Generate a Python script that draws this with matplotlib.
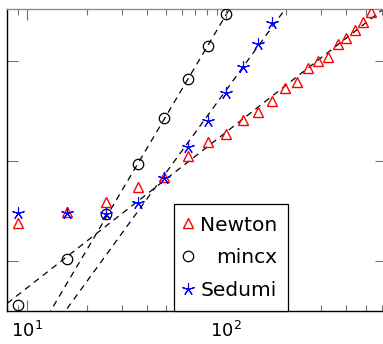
import matplotlib
matplotlib.use('Agg')
import matplotlib.pyplot as plt
import numpy as np

# problem sizes (x) and timings (y)
newton_x = [9, 16, 25, 36, 49, 64, 81, 100, 121, 144, 169, 196, 225, 256, 289,
            324, 361, 400, 441, 484, 529]
newton_y = [0.238, 0.311, 0.386, 0.546, 0.687, 1.13, 1.56, 1.86, 2.57, 3.11, 4.01,
            5.43, 6.17, 8.57, 10.07, 11.04, 14.69, 16.87, 20.42, 24.38, 30.69]

mincx_x = [9, 16, 25, 36, 49, 64, 81, 100]
mincx_y = [0.0367, 0.1054, 0.297, 0.927, 2.69, 6.56, 14.22, 29.31]

sedumi_x = [9, 16, 25, 36, 49, 64, 81, 100, 121, 144, 169]
sedumi_y = [0.300, 0.300, 0.297, 0.383, 0.671, 1.371, 2.53, 4.75, 8.77, 14.89, 23.99]

# points used for the log-log regression lines
newton_fit_from = 64
mincx_fit_from = 36
sedumi_fit_from = 36

fig = plt.figure(figsize=(3.83, 3.44), dpi=100)
ax = fig.add_axes([7.3 / 383, 33 / 344, 378.7 / 383, 302 / 344])
ax.set_xscale('log')
ax.set_yscale('log')
ax.set_xlim(10 ** 0.9025, 10 ** 2.8005)
ax.set_ylim(10 ** -1.5, 10 ** 1.52)

xl = np.array(ax.get_xlim())


def fit_line(xs, ys, start):
    xs = np.array(xs, dtype=float)
    ys = np.array(ys, dtype=float)
    m = xs >= start
    k, b = np.polyfit(np.log10(xs[m]), np.log10(ys[m]), 1)
    return 10 ** (k * np.log10(xl) + b)


for xs, ys, s in [(newton_x, newton_y, newton_fit_from),
                  (mincx_x, mincx_y, mincx_fit_from),
                  (sedumi_x, sedumi_y, sedumi_fit_from)]:
    ax.plot(xl, fit_line(xs, ys, s), color='black', lw=0.9, dashes=(5, 4), zorder=1)

ax.plot(newton_x, newton_y, ls='none', marker='^', ms=7.5, mfc='none', mec='red',
        mew=1.0, label='Newton', zorder=3)
ax.plot(mincx_x, mincx_y, ls='none', marker='o', ms=7.5, mfc='none', mec='black',
        mew=0.9, label='mincx', zorder=3)
ax.plot(sedumi_x, sedumi_y, ls='none', marker=(5, 2, 0), ms=9, mec='blue',
        mew=0.8, label='Sedumi', zorder=3)

ax.set_yticks([0.1, 1, 10])
ax.yaxis.set_minor_locator(matplotlib.ticker.NullLocator())
ax.set_yticklabels([])
ax.set_xticks([10, 100])
ax.set_xticklabels([r'$\mathdefault{10^{1}}$', r'$\mathdefault{10^{2}}$'])
ax.tick_params(which='both', direction='in', top=True, right=True, color='0.45',
               width=0.8, labelsize=13, pad=7)
ax.tick_params(which='major', length=8)
ax.tick_params(which='minor', length=4.5)
for s in ax.spines.values():
    s.set_linewidth(1.0)
ax.spines['top'].set_color('0.55')

leg = ax.legend(loc='lower left', bbox_to_anchor=(0.44, 0.0), borderaxespad=0,
                fontsize=14.5, numpoints=1, handlelength=0.3, handletextpad=0.45,
                labelspacing=0.68, borderpad=0.55, fancybox=False, framealpha=1,
                edgecolor='black')
leg.get_frame().set_linewidth(0.9)
leg.set_zorder(5)

# right-align the legend labels
fig.canvas.draw()
renderer = fig.canvas.get_renderer()
texts = leg.get_texts()
widths = [t.get_window_extent(renderer).width for t in texts]
wmax = max(widths)
for t, w in zip(texts, widths):
    t.set_position((wmax - w, 0))

fig.savefig('out.png', dpi=100)
